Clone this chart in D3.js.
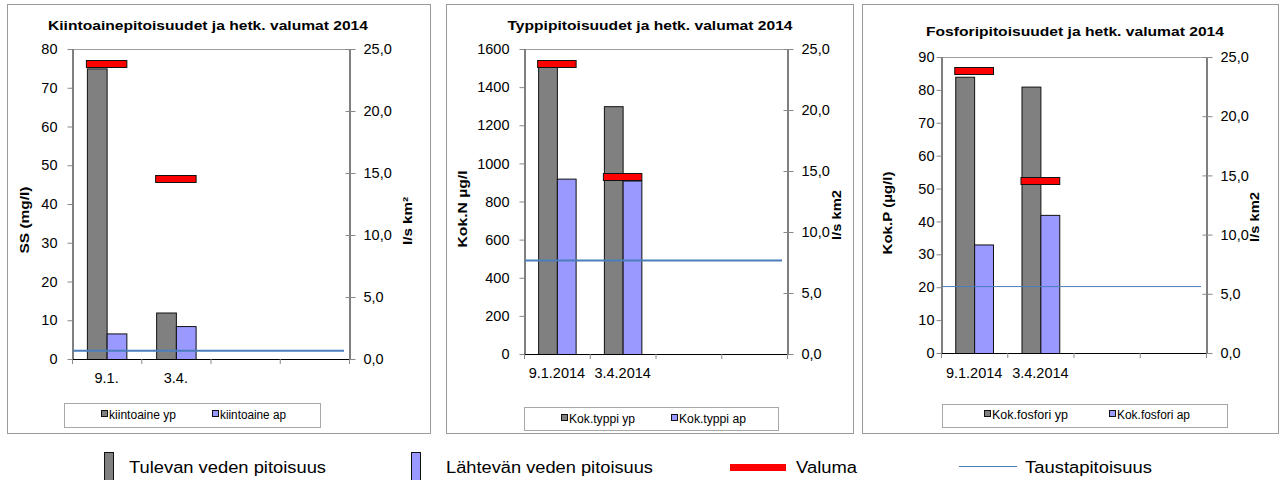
<!DOCTYPE html>
<html>
<head>
<meta charset="utf-8">
<script src="https://cdn.jsdelivr.net/npm/d3@7"></script>
<style>
body { margin: 0; background: #fff; }
svg { display: block; font-family: "Liberation Sans", Arial, sans-serif; }
</style>
</head>
<body>
<svg id="chart" width="1279" height="480"></svg>
<script>
// valuma (l/s km2) on both dates, same in all three charts
var valuma = [23.8, 14.5];
var valumaTicks = [0, 5, 10, 15, 20, 25];

// kiintoaine
var ssCats = ["9.1.", "3.4.", "", ""];
var ssYp = [75, 12];
var ssAp = [6.6, 8.5];
var ssTausta = 2.1;
var ssTicks = [0, 10, 20, 30, 40, 50, 60, 70, 80];

// typpi
var nCats = ["9.1.2014", "3.4.2014", "", ""];
var nYp = [1510, 1300];
var nAp = [920, 910];
var nTausta = 490;
var nTicks = [0, 200, 400, 600, 800, 1000, 1200, 1400, 1600];

// fosfori
var pCats = ["9.1.2014", "3.4.2014", "", ""];
var pYp = [84, 81];
var pAp = [33, 42];
var pTausta = 20.2;
var pTicks = [0, 10, 20, 30, 40, 50, 60, 70, 80, 90];

var svg = d3.select('#chart');

var panels = [
    {box: [7, 4, 423, 429], l: 72, r: 349, t: 49, b: 359, lpad: 10,
     cats: ssCats, yp: ssYp, ap: ssAp, tausta: ssTausta, ticks: ssTicks, lineW: 2,
     title: "Kiintoainepitoisuudet ja hetk. valumat 2014", titleX: 208, titleY: 30, titleLen: 320,
     yTitle: "SS (mg/l)", yTitleX: 24, yTitleY: 220, yTitleLen: 67,
     y2Title: "l/s km²", y2TitleX: 407, y2TitleY: 221, y2TitleLen: 48, xLabY: 383,
     legend: [64, 403, 256, 24], legX: [101, 212], legY: 419, legLen: [67, 66],
     names: ["kiintoaine yp", "kiintoaine ap"]},
    {box: [446, 4, 407, 429], l: 524, r: 787, t: 49, b: 354, lpad: 10,
     cats: nCats, yp: nYp, ap: nAp, tausta: nTausta, ticks: nTicks, lineW: 2,
     title: "Typpipitoisuudet ja hetk. valumat 2014", titleX: 650, titleY: 30, titleLen: 285,
     yTitle: "Kok.N µg/l", yTitleX: 462, yTitleY: 209, yTitleLen: 77,
     y2Title: "l/s km2", y2TitleX: 836, y2TitleY: 215, y2TitleLen: 50, xLabY: 378,
     legend: [524, 407, 254, 23], legX: [561, 671], legY: 423, legLen: [66, 67],
     names: ["Kok.typpi yp", "Kok.typpi ap"]},
    {box: [862, 4, 416, 429], l: 941, r: 1206, t: 57, b: 353, lpad: 2,
     cats: pCats, yp: pYp, ap: pAp, tausta: pTausta, ticks: pTicks, lineW: 1,
     title: "Fosforipitoisuudet ja hetk. valumat 2014", titleX: 1075, titleY: 36, titleLen: 298,
     yTitle: "Kok.P (µg/l)", yTitleX: 887, yTitleY: 213, yTitleLen: 83,
     y2Title: "l/s km2", y2TitleX: 1254, y2TitleY: 217, y2TitleLen: 50, xLabY: 378,
     legend: [942, 404, 285, 23], legX: [984, 1109], legY: 419, legLen: [76, 73],
     names: ["Kok.fosfori yp", "Kok.fosfori ap"]}
];

function drawPanel(p) {
    var g = svg.append('g');

    g.append('rect')
        .attr('x', p.box[0] + 0.5).attr('y', p.box[1] + 0.5)
        .attr('width', p.box[2]).attr('height', p.box[3])
        .attr('fill', '#fff').attr('stroke', '#9a9a9a');

    var idx = d3.range(p.cats.length);
    var x = d3.scaleBand().domain(idx).range([p.l, p.r]);
    var bw = x.bandwidth();
    var x1 = d3.scaleBand().domain(['yp', 'ap']).range([bw * 0.215, bw * 0.785]);
    var y = d3.scaleLinear().domain([0, p.ticks[p.ticks.length - 1]]).range([p.b, p.t]);
    var y2 = d3.scaleLinear().domain([0, 25]).range([p.b, p.t]);

    // top frame line
    g.append('line')
        .attr('x1', p.l).attr('x2', p.r)
        .attr('y1', p.t + 0.5).attr('y2', p.t + 0.5)
        .attr('stroke', '#a0a0a0');

    // bars
    var rows = p.yp.map(function (v, i) { return {i: i, yp: v, ap: p.ap[i]}; });
    ['yp', 'ap'].forEach(function (k) {
        g.selectAll('rect.bar-' + k)
            .data(rows)
            .enter().append('rect')
            .attr('class', 'bar-' + k)
            .attr('x', function (d) { return x(d.i) + x1(k) + 0.5; })
            .attr('y', function (d) { return y(d[k]) + 0.5; })
            .attr('width', x1.bandwidth())
            .attr('height', function (d) { return p.b - y(d[k]); })
            .attr('fill', k == 'yp' ? '#808080' : '#9999ff')
            .attr('stroke', '#111');
    });

    // left axis
    var ax = g.append('g')
        .attr('transform', 'translate(' + (p.l + 0.5) + ',0)')
        .call(d3.axisLeft(y).tickValues(p.ticks).tickSize(5).tickSizeOuter(0)
            .tickPadding(p.lpad).tickFormat(d3.format('d')));
    ax.select('.domain').attr('stroke', '#000');
    ax.selectAll('.tick line').attr('stroke', '#888');
    ax.selectAll('text').attr('font-size', 14.5).attr('fill', '#000')
        .attr('font-family', '"Liberation Sans", Arial, sans-serif');

    // right axis
    var ax2 = g.append('g')
        .attr('transform', 'translate(' + (p.r + 0.5) + ',0)')
        .call(d3.axisRight(y2).tickValues(valumaTicks).tickSize(6).tickSizeOuter(0)
            .tickPadding(8).tickFormat(function (d) { return d.toFixed(1).replace('.', ','); }));
    ax2.select('.domain').attr('stroke', '#000');
    ax2.selectAll('.tick line').attr('x1', -4).attr('stroke', '#888');
    ax2.selectAll('text').attr('font-size', 14.5).attr('fill', '#000')
        .attr('font-family', '"Liberation Sans", Arial, sans-serif');

    // bottom axis
    g.append('line')
        .attr('x1', p.l).attr('x2', p.r + 1)
        .attr('y1', p.b + 0.5).attr('y2', p.b + 0.5)
        .attr('stroke', '#000');
    g.selectAll('line.xtick')
        .data(idx.concat([p.cats.length]))
        .enter().append('line')
        .attr('class', 'xtick')
        .attr('x1', function (i) { return (i < p.cats.length ? x(i) : p.r) + 0.5; })
        .attr('x2', function (i) { return (i < p.cats.length ? x(i) : p.r) + 0.5; })
        .attr('y1', p.b).attr('y2', p.b + 5)
        .attr('stroke', '#888');
    g.selectAll('text.xlab')
        .data(p.cats)
        .enter().append('text')
        .attr('class', 'xlab')
        .attr('x', function (d, i) { return x(i) + bw / 2; })
        .attr('y', p.xLabY)
        .attr('text-anchor', 'middle')
        .attr('font-size', 14.5)
        .text(function (d) { return d; });

    // taustapitoisuus
    g.append('line')
        .attr('x1', p.l + 1).attr('x2', p.r - 5)
        .attr('y1', y(p.tausta)).attr('y2', y(p.tausta))
        .attr('stroke', '#4a7ebb').attr('stroke-width', p.lineW);

    // valuma markers
    g.selectAll('rect.valuma')
        .data(valuma)
        .enter().append('rect')
        .attr('class', 'valuma')
        .attr('x', function (d, i) { return x(i) + x1('yp') - 0.5; })
        .attr('y', function (d) { return Math.round(y2(d) - 4) + 0.5; })
        .attr('width', x1.bandwidth() * 2 + 1)
        .attr('height', 7)
        .attr('fill', '#ff0000')
        .attr('stroke', '#111');

    // titles
    g.append('text')
        .attr('x', p.titleX).attr('y', p.titleY)
        .attr('text-anchor', 'middle')
        .attr('font-size', 13).attr('font-weight', 'bold')
        .attr('textLength', p.titleLen).attr('lengthAdjust', 'spacingAndGlyphs')
        .text(p.title);
    g.append('text')
        .attr('transform', 'translate(' + p.yTitleX + ',' + p.yTitleY + ') rotate(-90)')
        .attr('text-anchor', 'middle').attr('dy', '0.35em')
        .attr('font-size', 13.5).attr('font-weight', 'bold')
        .attr('textLength', p.yTitleLen).attr('lengthAdjust', 'spacingAndGlyphs')
        .text(p.yTitle);
    g.append('text')
        .attr('transform', 'translate(' + p.y2TitleX + ',' + p.y2TitleY + ') rotate(-90)')
        .attr('text-anchor', 'middle').attr('dy', '0.35em')
        .attr('font-size', 13.5).attr('font-weight', 'bold')
        .attr('textLength', p.y2TitleLen).attr('lengthAdjust', 'spacingAndGlyphs')
        .text(p.y2Title);

    // series legend box
    g.append('rect')
        .attr('x', p.legend[0] + 0.5).attr('y', p.legend[1] + 0.5)
        .attr('width', p.legend[2]).attr('height', p.legend[3])
        .attr('fill', '#fff').attr('stroke', '#a8a8a8');
    var fills = ['#808080', '#9999ff'];
    p.names.forEach(function (name, i) {
        g.append('rect')
            .attr('x', p.legX[i] + 0.5).attr('y', p.legY - 8.5)
            .attr('width', 6).attr('height', 6)
            .attr('fill', fills[i]).attr('stroke', '#111');
        g.append('text')
            .attr('x', p.legX[i] + 8).attr('y', p.legY)
            .attr('font-size', 12)
            .attr('textLength', p.legLen[i]).attr('lengthAdjust', 'spacingAndGlyphs')
            .text(name);
    });
}

panels.forEach(drawPanel);

// common legend at the bottom
var foot = svg.append('g');
foot.append('rect').attr('x', 104.5).attr('y', 452.5).attr('width', 9).attr('height', 30)
    .attr('fill', '#808080').attr('stroke', '#111');
foot.append('rect').attr('x', 411.5).attr('y', 452.5).attr('width', 9).attr('height', 30)
    .attr('fill', '#9999ff').attr('stroke', '#111');
foot.append('rect').attr('x', 730).attr('y', 464).attr('width', 56).attr('height', 7)
    .attr('fill', '#ff0000');
foot.append('line').attr('x1', 959).attr('x2', 1017).attr('y1', 466.5).attr('y2', 466.5)
    .attr('stroke', '#4a7ebb').attr('stroke-width', 1.2);

var footTexts = [
    {t: 'Tulevan veden pitoisuus', x: 129, len: 197},
    {t: 'Lähtevän veden pitoisuus', x: 446, len: 207},
    {t: 'Valuma', x: 796, len: 61},
    {t: 'Taustapitoisuus', x: 1025, len: 127}
];
foot.selectAll('text')
    .data(footTexts)
    .enter().append('text')
    .attr('x', function (d) { return d.x; })
    .attr('y', 473)
    .attr('font-size', 16)
    .attr('textLength', function (d) { return d.len; })
    .attr('lengthAdjust', 'spacingAndGlyphs')
    .text(function (d) { return d.t; });
</script>
</body>
</html>
